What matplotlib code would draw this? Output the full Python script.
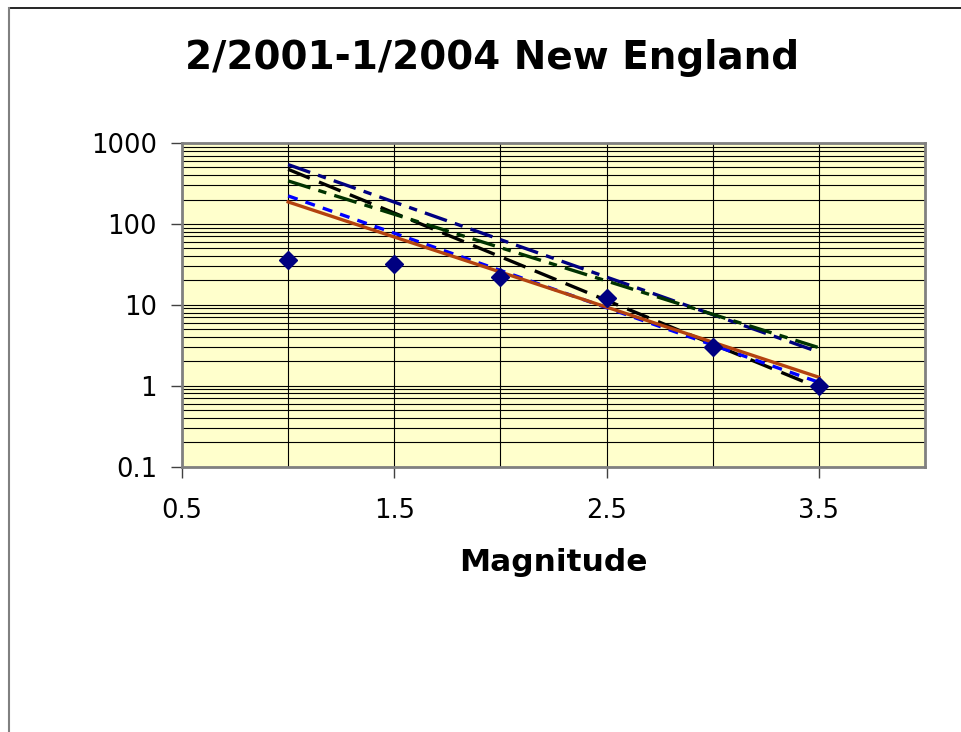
import numpy as np
import matplotlib
matplotlib.use("Agg")
import matplotlib.pyplot as plt
from matplotlib.ticker import FixedLocator, NullFormatter, LogLocator

# observed counts
magnitude = [1.0, 1.5, 2.0, 2.5, 3.0, 3.5]
counts = [36, 32, 22, 12, 3, 1]

# fitted lines, values at M=1.0 and M=3.5
fit_m = [1.0, 3.5]
fit_navy = [541, 2.6]
fit_black = [473, 0.94]
fit_green = [340, 2.95]
fit_blue = [222, 1.1]
fit_brown = [187, 1.27]

x_ticks = [0.5, 1.5, 2.5, 3.5]
x_minor = [1.0, 2.0, 3.0]
y_ticks = [0.1, 1, 10, 100, 1000]
y_labels = ["0.1", "1", "10", "100", "1000"]

fig = plt.figure(figsize=(9.61, 7.32), dpi=100)
ax = fig.add_axes([0.1894, 0.3627, 0.7731, 0.4419])
ax.set_facecolor("#FFFFCC")

ax.plot(fit_m, fit_navy, color="#000080", lw=2.4, dashes=(7, 2.5, 2.5, 2.5))
ax.plot(fit_m, fit_black, color="black", lw=2.4, dashes=(7, 3))
ax.plot(fit_m, fit_green, color="#003300", lw=2.4, dashes=(7, 2.5, 2.5, 2.5))
ax.plot(fit_m, fit_blue, color="#0000FF", lw=2.4, dashes=(3, 2.5))
ax.plot(fit_m, fit_brown, color="#B4430F", lw=2.4)
ax.plot(magnitude, counts, ls="none", marker="D", ms=9, color="#000080", zorder=5)

ax.set_yscale("log")
ax.set_xlim(0.5, 4.0)
ax.set_ylim(0.1, 1000)

ax.xaxis.set_major_locator(FixedLocator(x_ticks))
ax.xaxis.set_minor_locator(FixedLocator(x_minor))
ax.set_xticklabels([str(v) for v in x_ticks])
ax.yaxis.set_major_locator(FixedLocator(y_ticks))
ax.set_yticklabels(y_labels)
ax.yaxis.set_minor_locator(LogLocator(base=10, subs=np.arange(2, 10)))
ax.yaxis.set_minor_formatter(NullFormatter())

ax.grid(True, which="both", axis="y", color="black", lw=0.8)
ax.grid(True, which="both", axis="x", color="black", lw=0.8)
ax.set_axisbelow(True)
ax.tick_params(which="major", direction="out", length=8, width=1, color="#404040",
               labelsize=18.5, pad=10)
ax.tick_params(axis="x", which="major", pad=15)
ax.tick_params(which="minor", length=0)
for s in ax.spines.values():
    s.set_color("#808080")
    s.set_linewidth(2)

ax.set_xlabel("Magnitude", fontsize=22.5, fontweight="bold", labelpad=17)
fig.text(0.512, 0.921, "2/2001-1/2004 New England", ha="center", va="center",
         fontsize=28, fontweight="bold")

# outer chart frame, cut off at right and bottom
fig.add_artist(plt.Line2D([9 / 961, 1], [1 - 8 / 732] * 2, transform=fig.transFigure,
                          color="black", lw=1.2))
fig.add_artist(plt.Line2D([9 / 961] * 2, [0, 1 - 8 / 732], transform=fig.transFigure,
                          color="#808080", lw=1.5))

fig.savefig("out.png", dpi=100)
